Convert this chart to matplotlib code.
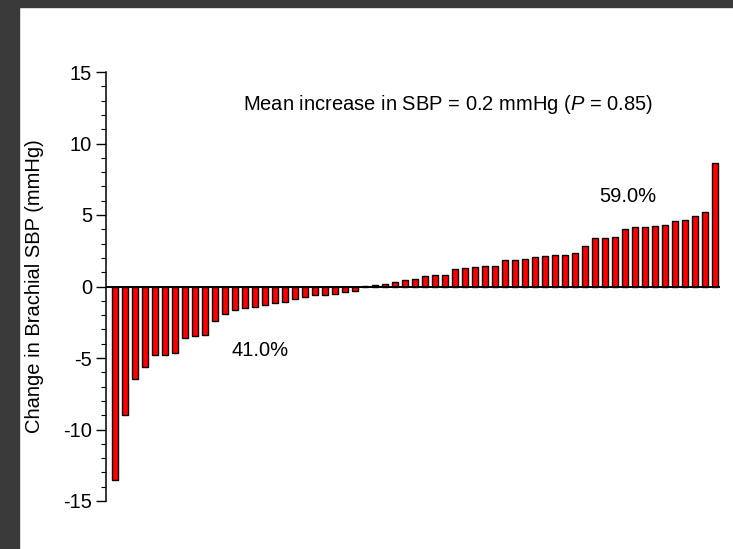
"""waterfall plot of individual change in brachial SBP"""

import matplotlib
matplotlib.use("Agg")
import matplotlib.pyplot as plt
from matplotlib.patches import Rectangle
from matplotlib.ticker import MultipleLocator

# change in brachial SBP per participant (mmHg), sorted
neg_change = [-13.5, -9.0, -6.5, -5.6, -4.8, -4.8, -4.65, -3.57, -3.47, -3.36,
              -2.38, -1.93, -1.63, -1.49, -1.45, -1.26, -1.16, -1.05, -0.85, -0.72,
              -0.6, -0.56, -0.51, -0.37, -0.28]
pos_change = [0.05, 0.09, 0.19, 0.3, 0.42, 0.49, 0.7, 0.77, 0.77, 1.19,
              1.28, 1.35, 1.42, 1.42, 1.82, 1.87, 1.93, 2.05, 2.12, 2.17,
              2.17, 2.31, 2.85, 3.38, 3.4, 3.47, 4.0, 4.15, 4.15, 4.2,
              4.29, 4.55, 4.64, 4.94, 5.22, 8.62]
change = neg_change + pos_change
pct_neg = "41.0%"
pct_pos = "59.0%"
note = "Mean increase in SBP = 0.2 mmHg ($\\mathit{P}$ = 0.85)"

plt.rcParams['font.family'] = ['Liberation Sans', 'DejaVu Sans']
plt.rcParams['mathtext.fontset'] = 'custom'
plt.rcParams['mathtext.it'] = 'Liberation Sans:italic'
plt.rcParams['mathtext.rm'] = 'Liberation Sans'
plt.rcParams['axes.unicode_minus'] = False

FS = 14.5
W, H = 733, 549
fig = plt.figure(figsize=(W / 100, H / 100), dpi=100)
fig.patch.set_facecolor('white')

# dark photo border on left and top
fig.patches.append(Rectangle((0, 0), 19 / W, 1, transform=fig.transFigure,
                             color='#3a3a3a', zorder=0))
fig.patches.append(Rectangle((0, 1 - 7 / H), 1, 7 / H, transform=fig.transFigure,
                             color='#3a3a3a', zorder=0))

ax = fig.add_axes([106 / W, 1 - 501 / H, (720 - 106) / W, (501 - 72) / H])
ax.set_facecolor('none')

x = list(range(len(change)))
ax.bar(x, change, width=0.6, color='#ff0000', edgecolor='black', linewidth=1.0,
       zorder=2)
ax.axhline(0, color='black', linewidth=1.4, zorder=3)

ax.set_xlim(-0.9, len(change) - 0.5)
ax.set_ylim(-15, 15)
ax.yaxis.set_major_locator(MultipleLocator(5))
ax.yaxis.set_minor_locator(MultipleLocator(1))
ax.tick_params(axis='y', which='major', length=7, width=1, labelsize=FS, pad=3)
ax.tick_params(axis='y', which='minor', length=3.5, width=0.8)
ax.set_xticks([])
for s in ['top', 'right', 'bottom']:
    ax.spines[s].set_visible(False)
ax.spines['left'].set_linewidth(1.1)

ax.set_ylabel('Change in Brachial SBP (mmHg)', fontsize=FS)
ax.yaxis.set_label_coords(-62 / 614, 0.5)

ax.text(0.557, 0.925, note, transform=ax.transAxes, ha='center', va='center',
        fontsize=FS)
ax.text(14.5, -4.5, pct_neg, ha='center', va='center', fontsize=FS)
ax.text(51.3, 6.3, pct_pos, ha='center', va='center', fontsize=FS)

fig.savefig('out.png', dpi=100)
